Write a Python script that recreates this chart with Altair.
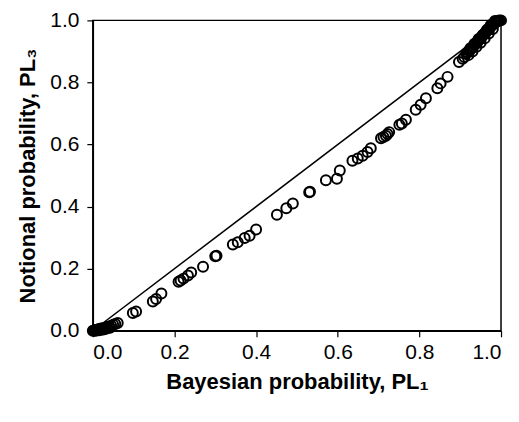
import altair as alt
import pandas as pd

# Scatter data
bayes = [0.0, 0.003, 0.005, 0.008, 0.010, 0.012, 0.015, 0.018, 0.020, 0.025, 0.030, 0.035,
         0.040, 0.045, 0.050, 0.055, 0.061, 0.004, 0.010, 0.016, 0.022, 0.028, 0.034, 0.042,
         0.098, 0.106, 0.147, 0.155, 0.168,
         0.210, 0.215, 0.222, 0.233, 0.241,
         0.270, 0.300, 0.303, 0.343, 0.355, 0.372, 0.384, 0.400,
         0.451, 0.474, 0.490, 0.530, 0.532, 0.571, 0.598, 0.605,
         0.636, 0.649, 0.661, 0.673, 0.681, 0.706, 0.712, 0.718, 0.722, 0.726,
         0.751, 0.757, 0.767, 0.791, 0.803, 0.816, 0.844, 0.852, 0.869,
         0.897, 0.906, 0.910,
         0.915, 0.918, 0.922, 0.925, 0.928, 0.932, 0.935, 0.938, 0.942, 0.945,
         0.948, 0.952, 0.955, 0.958, 0.962, 0.965, 0.968, 0.972, 0.975, 0.978,
         0.982, 0.985, 0.988, 0.990, 0.993, 0.996, 1.000,
         0.920, 0.930, 0.940, 0.950, 0.960, 0.970, 0.980,
         0.925, 0.935, 0.945, 0.955, 0.965, 0.975, 0.985]
notional = [0.0, 0.001, 0.002, 0.002, 0.003, 0.004, 0.005, 0.006, 0.007, 0.008, 0.010, 0.012,
            0.014, 0.016, 0.019, 0.022, 0.025, 0.000, 0.001, 0.002, 0.003, 0.005, 0.007, 0.010,
            0.057, 0.062, 0.094, 0.102, 0.120,
            0.158, 0.162, 0.168, 0.178, 0.188,
            0.206, 0.240, 0.242, 0.278, 0.285, 0.299, 0.306, 0.326,
            0.374, 0.395, 0.410, 0.446, 0.448, 0.485, 0.490, 0.516,
            0.548, 0.555, 0.564, 0.576, 0.588, 0.620, 0.624, 0.628, 0.634, 0.640,
            0.664, 0.668, 0.680, 0.712, 0.728, 0.749, 0.781, 0.797, 0.818,
            0.866, 0.876, 0.882,
            0.893, 0.897, 0.903, 0.905, 0.912, 0.915, 0.922, 0.925, 0.932, 0.935,
            0.942, 0.945, 0.952, 0.955, 0.962, 0.965, 0.972, 0.975, 0.980, 0.984,
            0.988, 0.992, 0.995, 0.997, 0.999, 1.000, 1.000,
            0.888, 0.900, 0.915, 0.928, 0.942, 0.958, 0.972,
            0.910, 0.925, 0.940, 0.952, 0.968, 0.985, 0.998]

# Reference 1:1 line
line_x = [0.0, 1.0]
line_y = [0.0, 1.0]

ticks = [0.0, 0.2, 0.4, 0.6, 0.8, 1.0]

pts = pd.DataFrame({"x": bayes, "y": notional})
ln = pd.DataFrame({"x": line_x, "y": line_y})

FONT = "Liberation Sans"

xscale = alt.Scale(domain=[0, 1], nice=False, zero=False)
yscale = alt.Scale(domain=[0, 1], nice=False, zero=False)

xaxis = alt.Axis(values=ticks, format=".1f", title="Bayesian probability, PL\u2081",
                 grid=False, tickSize=6, labelPadding=5, titlePadding=9)
yaxis = alt.Axis(values=ticks, format=".1f", title="Notional probability, PL\u2083",
                 grid=False, tickSize=6, labelPadding=8, titlePadding=10)

line = alt.Chart(ln).mark_line(color="black", strokeWidth=1.5).encode(
    x=alt.X("x:Q", scale=xscale, axis=xaxis),
    y=alt.Y("y:Q", scale=yscale, axis=yaxis),
)

points = alt.Chart(pts).mark_point(
    shape="circle", filled=False, color="black", size=100, strokeWidth=2, opacity=1
).encode(
    x=alt.X("x:Q", scale=xscale, axis=xaxis),
    y=alt.Y("y:Q", scale=yscale, axis=yaxis),
)

chart = alt.layer(line, points).properties(
    width=409, height=311,
    autosize=alt.AutoSizeParams(type="none"),
    padding={"left": 85, "top": 12, "right": 10, "bottom": 80},
    background="white",
).configure_view(
    stroke="black", strokeWidth=1.5
).configure_axis(
    domainColor="black", domainWidth=1.5, tickColor="black", tickWidth=1.2,
    labelFont=FONT, labelFontSize=21, labelColor="black",
    titleFont=FONT, titleFontSize=22, titleFontWeight="bold", titleColor="black",
)

chart.save("out.html", embed_options={"renderer": "svg", "actions": False})
